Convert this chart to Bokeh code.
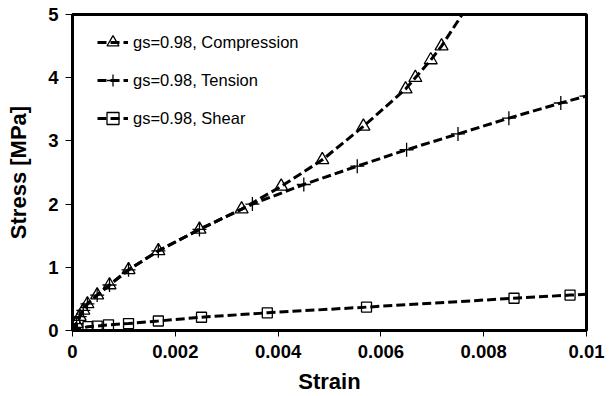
from bokeh.plotting import figure
from bokeh.models import Range1d, FixedTicker, NumeralTickFormatter, Legend, LegendItem
from bokeh.embed import file_html
from bokeh.resources import INLINE

# Compression (gs=0.98)
comp_strain = [0, 0.00008, 0.00014, 0.00021, 0.00029, 0.00048, 0.00072, 0.00109, 0.00167,
               0.00247, 0.00329, 0.00406, 0.00486, 0.00566, 0.00648, 0.00667, 0.00697, 0.00718]
comp_stress = [0, 0.11, 0.22, 0.32, 0.42, 0.56, 0.72, 0.96, 1.26,
               1.60, 1.92, 2.28, 2.70, 3.23, 3.82, 4.00, 4.28, 4.50]
comp_curve_end = (0.00762, 5.05)

# Tension (gs=0.98)
tens_strain = [0, 0.00008, 0.00014, 0.00021, 0.00029, 0.00048, 0.00072, 0.00109, 0.00167,
               0.00247, 0.0035, 0.0045, 0.00554, 0.0065, 0.0075, 0.00849, 0.0095, 0.0100]
tens_stress = [0, 0.11, 0.22, 0.32, 0.42, 0.56, 0.72, 0.96, 1.26,
               1.60, 2.00, 2.31, 2.60, 2.86, 3.11, 3.36, 3.60, 3.71]

# Shear (gs=0.98)
shear_strain = [0, 0.0003, 0.00048, 0.0007, 0.00109, 0.00167, 0.00251, 0.00379, 0.00572, 0.00859, 0.00968]
shear_stress = [0, 0.06, 0.07, 0.09, 0.11, 0.15, 0.21, 0.28, 0.37, 0.51, 0.56]
shear_curve_end = (0.0100, 0.575)

labels = ["gs=0.98, Compression", "gs=0.98, Tension", "gs=0.98, Shear"]
x_ticks = [0, 0.002, 0.004, 0.006, 0.008, 0.01]
y_ticks = [0, 1, 2, 3, 4, 5]

FONT = "Liberation Sans"

p = figure(width=612, height=396, output_backend="svg", toolbar_location=None,
           x_range=Range1d(0, 0.01), y_range=Range1d(0, 5),
           min_border_left=72, min_border_right=26, min_border_top=14, min_border_bottom=64)
p.grid.visible = False
p.outline_line_color = "black"
p.outline_line_width = 3
p.background_fill_color = "white"
p.border_fill_color = "white"

dash = "9 4"
lw = 3

l1 = p.line(comp_strain + [comp_curve_end[0]], comp_stress + [comp_curve_end[1]],
            line_color="black", line_width=lw, line_dash=dash)
s1 = p.scatter(comp_strain, comp_stress, marker="triangle", size=13,
               line_color="black", line_width=1.3, fill_color=None)

l2 = p.line(tens_strain, tens_stress, line_color="black", line_width=lw, line_dash=dash)
s2 = p.scatter(tens_strain, tens_stress, marker="cross", size=14,
               line_color="black", line_width=1.3)

l3 = p.line(shear_strain + [shear_curve_end[0]], shear_stress + [shear_curve_end[1]],
            line_color="black", line_width=lw, line_dash=dash)
s3 = p.scatter(shear_strain, shear_stress, marker="square", size=10,
               line_color="black", line_width=1.3, fill_color=None)

legend = Legend(items=[LegendItem(label=labels[0], renderers=[l1, s1]),
                       LegendItem(label=labels[1], renderers=[l2, s2]),
                       LegendItem(label=labels[2], renderers=[l3, s3])],
                location=(15, 187), orientation="vertical")
legend.border_line_alpha = 0
legend.background_fill_alpha = 0
legend.label_text_font = FONT
legend.label_text_font_size = "16.5px"
legend.label_text_color = "black"
legend.glyph_width = 31
legend.glyph_height = 30
legend.label_height = 20
legend.spacing = 8
legend.label_standoff = 5
legend.padding = 10
legend.margin = 0
p.add_layout(legend, "center")

for ax in (p.xaxis, p.yaxis):
    ax.axis_line_width = 3
    ax.axis_line_color = "black"
    ax.major_tick_line_color = "black"
    ax.major_tick_line_width = 1
    ax.minor_tick_line_color = None
    ax.major_tick_in = 0
    ax.major_label_text_font = FONT
    ax.major_label_text_font_style = "bold"
    ax.major_label_text_font_size = "18.5px"
    ax.major_label_text_color = "black"
    ax.axis_label_text_font = FONT
    ax.axis_label_text_font_style = "bold"
    ax.axis_label_text_font_size = "22px"
    ax.axis_label_text_color = "black"

p.xaxis.ticker = FixedTicker(ticks=x_ticks)
p.xaxis.formatter = NumeralTickFormatter(format="0.[000]")
p.xaxis.major_tick_out = 6
p.xaxis.major_label_standoff = 8
p.xaxis.axis_label = "Strain"
p.xaxis.axis_label_standoff = 8

p.yaxis.ticker = FixedTicker(ticks=y_ticks)
p.yaxis.major_tick_out = 7
p.yaxis.major_label_standoff = 7
p.yaxis.axis_label = "Stress [MPa]"
p.yaxis.axis_label_standoff = 14

open("out.html", "w").write(file_html(p, INLINE))
